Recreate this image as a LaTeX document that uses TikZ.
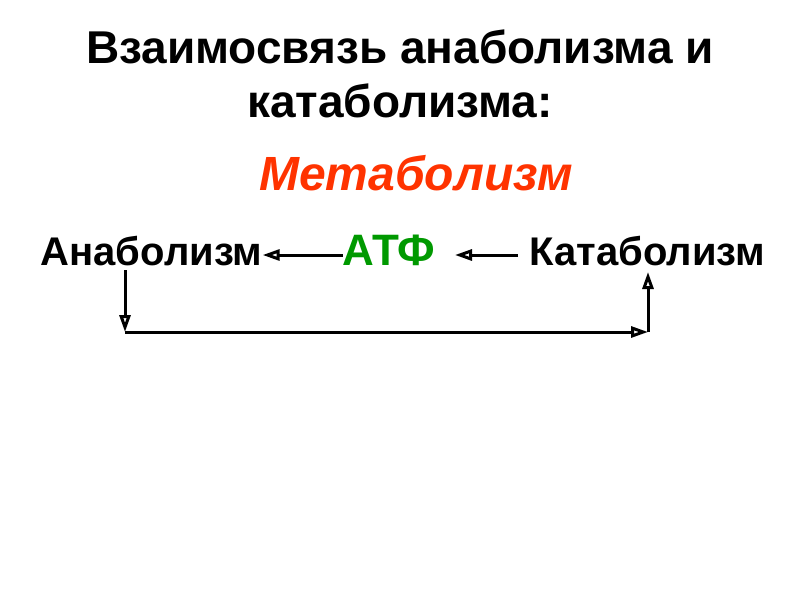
\documentclass[tikz,border=0pt]{standalone}
\usepackage{fontspec}
\setmainfont{Liberation Sans}
\usetikzlibrary{arrows.meta}
\definecolor{metared}{RGB}{255,51,0}
\definecolor{atpgreen}{RGB}{0,153,0}
\tikzset{
  word/.style={font=\bfseries\fontsize{40}{48}\selectfont, inner sep=0pt, anchor=base},
  link/.style={-{Triangle[open,length=17pt,width=11pt]}, line width=3pt}
}
\begin{document}
\begin{tikzpicture}[x=1pt,y=-1pt]
  \useasboundingbox (0,0) rectangle (800,600);
  \node[word, align=center, font=\bfseries\fontsize{46}{54}\selectfont] (title) at (400,117)
    {Взаимосвязь анаболизма и\\катаболизма:};
  \node[word, text=metared, font=\bfseries\itshape\fontsize{48}{56}\selectfont] (meta) at (416,190) {Метаболизм};
  \node[word] (ana) at (151.5,265) {Анаболизм};
  \node[word, text=atpgreen, font=\bfseries\fontsize{44}{52}\selectfont] (atp) at (389,265) {АТФ};
  \node[word] (kata) at (647.5,265) {Катаболизм};
  \coordinate (a1) at (125,270);
  \coordinate (a2) at (125,332);
  \coordinate (k2) at (648,332);
  \coordinate (k1) at (648,272);
  \begin{scope}[link]
    \draw (atp.west |- 0,255) to (ana.east |- 0,255);
    \draw (518,255) to (455,255);
    \draw (a1) to (a2);
    \draw (a2) to (k2);
    \draw (k2) to (k1);
  \end{scope}
\end{tikzpicture}
\end{document}
